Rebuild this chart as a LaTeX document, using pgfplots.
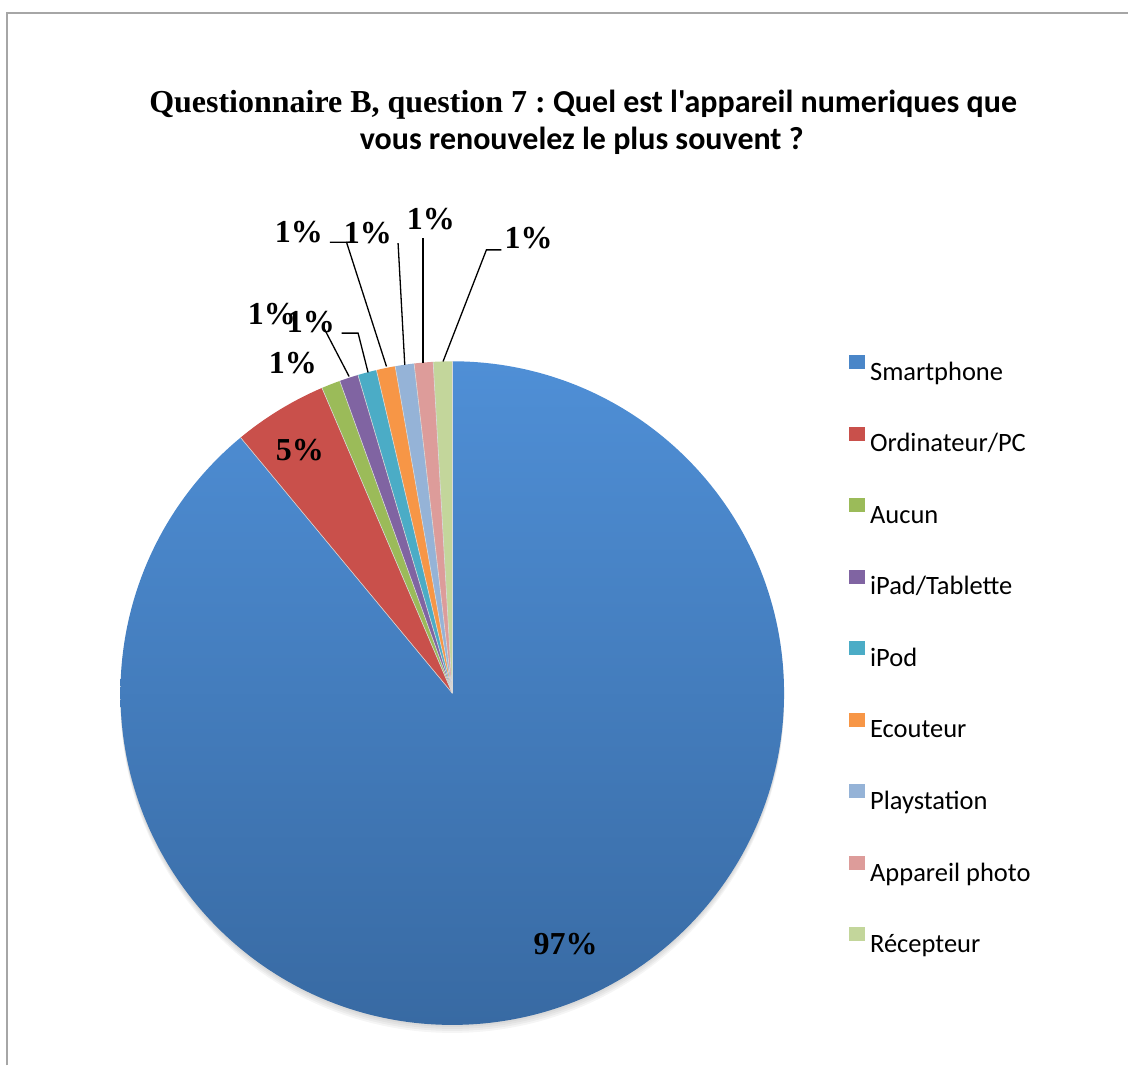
\documentclass[border=0pt]{standalone}
\usepackage{fontspec}
\setmainfont{Liberation Serif}
\newfontfamily\calibri{Carlito}
\usepackage{pgfplots}
\usepackage{pgfplotstable}
\pgfplotsset{compat=1.18}
\definecolor{c0}{HTML}{4A86C8}
\definecolor{c0t}{HTML}{4F8FD6}
\definecolor{c0b}{HTML}{386AA3}
\definecolor{c1}{HTML}{C9504B}
\definecolor{c2}{HTML}{9BBB59}
\definecolor{c3}{HTML}{8064A2}
\definecolor{c4}{HTML}{4BACC6}
\definecolor{c5}{HTML}{F79646}
\definecolor{c6}{HTML}{95B3D7}
\definecolor{c7}{HTML}{DD9C9A}
\definecolor{c8}{HTML}{C3D69B}
\definecolor{frame}{HTML}{A6A6A6}
\pgfplotstableread[col sep=comma]{
name,count
Smartphone,97
Ordinateur/PC,5
Aucun,1
iPad/Tablette,1
iPod,1
Ecouteur,1
Playstation,1
Appareil photo,1
Récepteur,1
}\piedata
\begin{document}
\begin{tikzpicture}
% cumulative angles (clockwise from 12 o'clock)
\xdef\total{0}
\foreach \i in {0,...,8}{%
  \pgfplotstablegetelem{\i}{count}\of\piedata
  \pgfmathsetmacro\t{\total+\pgfplotsretval}\xdef\total{\t}}
\pgfmathsetmacro\degper{360/\total}\xdef\degper{\degper}
\xdef\cur{90}
\foreach \i in {0,...,8}{%
  \pgfplotstablegetelem{\i}{count}\of\piedata
  \pgfmathsetmacro\e{\cur-\pgfplotsretval*\degper}%
  \expandafter\xdef\csname sa\i\endcsname{\cur}%
  \expandafter\xdef\csname ea\i\endcsname{\e}%
  \xdef\cur{\e}}
\begin{axis}[
  x=1pt, y=1pt, xmin=0, xmax=1129, ymin=0, ymax=1066,
  hide axis, clip=false, scale only axis,
  legend cell align=left,
  legend image code/.code={\fill[#1] (0pt,6pt) rectangle (15pt,19pt);},
  legend style={draw=none, fill=none, at={(axis cs:846,713)}, anchor=north west,
    font=\calibri\fontsize{26.5}{30}\selectfont, row sep=40.4pt,
    nodes={inner sep=0pt, text height=18pt, text depth=6pt},
    /tikz/every odd column/.append style={column sep=6pt}},
]
% full canvas
\path (axis cs:0,0) rectangle (axis cs:1129,1066);
% frame
\draw[frame, line width=1.3pt] (axis cs:7,0) -- (axis cs:7,1053) -- (axis cs:1129,1053);
% soft shadow
\fill[black, opacity=0.04] (axis cs:452.5,370.5) circle[radius=332pt];
\fill[black, opacity=0.04] (axis cs:452.5,368.5) circle[radius=332pt];
\fill[black, opacity=0.04] (axis cs:452.5,366.5) circle[radius=332pt];
\fill[black, opacity=0.04] (axis cs:452.5,364.5) circle[radius=332pt];
% slices
\shade[top color=c0t, bottom color=c0b, shading angle=0]
  (axis cs:452.5,372.5) -- ++(\csname sa0\endcsname:332pt)
  arc[start angle=\csname sa0\endcsname, end angle=\csname ea0\endcsname, radius=332pt] -- cycle;
\pgfplotsinvokeforeach{1,...,8}{
  \fill[c#1] (axis cs:452.5,372.5) -- ++(\csname sa#1\endcsname:332pt)
    arc[start angle=\csname sa#1\endcsname, end angle=\csname ea#1\endcsname, radius=332pt] -- cycle;
}
\pgfplotsinvokeforeach{0,...,8}{
  \draw[white!85!black, line width=0.6pt] (axis cs:452.5,372.5) -- ++(\csname sa#1\endcsname:332pt);
}
% legend entries
\addlegendimage{c0}\addlegendentry{Smartphone}
\addlegendimage{c1}\addlegendentry{Ordinateur/PC}
\addlegendimage{c2}\addlegendentry{Aucun}
\addlegendimage{c3}\addlegendentry{iPad/Tablette}
\addlegendimage{c4}\addlegendentry{iPod}
\addlegendimage{c5}\addlegendentry{Ecouteur}
\addlegendimage{c6}\addlegendentry{Playstation}
\addlegendimage{c7}\addlegendentry{Appareil photo}
\addlegendimage{c8}\addlegendentry{Récepteur}
% leader lines
\draw[black, line width=1.3pt] (axis cs:323.3,739.3) -- (axis cs:349.3,689.3);
\draw[black, line width=1.3pt] (axis cs:341.7,732.7) -- (axis cs:358.3,732.7) -- (axis cs:368.3,693.3);
\draw[black, line width=1.3pt] (axis cs:330,823.7) -- (axis cs:346.7,823.7) -- (axis cs:386.7,699.3);
\draw[black, line width=1.3pt] (axis cs:398.3,822.7) -- (axis cs:405,701);
\draw[black, line width=1.3pt] (axis cs:423.3,827.7) -- (axis cs:423.3,702.7);
\draw[black, line width=1.3pt] (axis cs:501.7,816) -- (axis cs:486.7,816) -- (axis cs:443.3,704.3);
% data labels
\begin{scope}[every node/.style={font=\bfseries\fontsize{32}{32}\selectfont, inner sep=0pt}]
\node at (axis cs:566,121) {97\%};
\node at (axis cs:300,616) {5\%};
\node at (axis cs:293,703) {1\%};
\node at (axis cs:272,752) {1\%};
\node at (axis cs:311,743.5) {1\%};
\node at (axis cs:299,833.5) {1\%};
\node at (axis cs:368,833) {1\%};
\node at (axis cs:431,846.5) {1\%};
\node at (axis cs:529,828) {1\%};
\end{scope}
% title
\node[anchor=base, inner sep=0pt] at (axis cs:583.5,953)
  {\bfseries\fontsize{32}{34}\selectfont Questionnaire B, question 7 :{\calibri\bfseries\ Quel est l'appareil numeriques que}};
\node[anchor=base, inner sep=0pt] at (axis cs:582,916)
  {\calibri\bfseries\fontsize{32}{34}\selectfont vous renouvelez le plus souvent ?};
\end{axis}
\end{tikzpicture}
\end{document}
